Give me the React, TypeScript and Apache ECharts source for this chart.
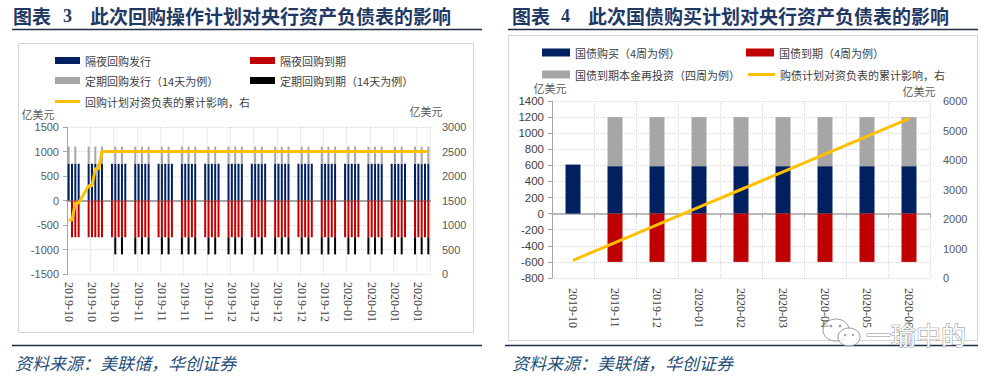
import React, { useEffect, useRef } from 'react';
import * as echarts from 'echarts';

const _ = null;

// ---------- Left chart (daily, 2019-10-15 .. 2020-01-31) ----------
const repoStart = '2019-10-15';
const repoEnd = '2020-01-31';

const overnightIssue = [
  750, 750, 750, 750, _, _,
  750, 750, 750, 750, 750, _, _,
  750, 750, 750, 750, 750, _, _,
  750, 750, 750, 750, 750, _, _,
  750, 750, 750, 750, 750, _, _,
  750, 750, 750, 750, 750, _, _,
  750, 750, 750, 750, 750, _, _,
  750, 750, 750, 750, 750, _, _,
  750, 750, 750, 750, 750, _, _,
  750, 750, 750, 750, 750, _, _,
  750, 750, 750, 750, 750, _, _,
  750, 750, 750, 750, 750, _, _,
  750, 750, 750, 750, 750, _, _,
  750, 750, 750, 750, 750, _, _,
  750, 750, 750, 750, 750, _, _,
  750, 750, 750, 750, 750,
];

const overnightMature = [
  _, -750, -750, -750, _, _,
  -750, -750, -750, -750, -750, _, _,
  -750, -750, -750, -750, -750, _, _,
  -750, -750, -750, -750, -750, _, _,
  -750, -750, -750, -750, -750, _, _,
  -750, -750, -750, -750, -750, _, _,
  -750, -750, -750, -750, -750, _, _,
  -750, -750, -750, -750, -750, _, _,
  -750, -750, -750, -750, -750, _, _,
  -750, -750, -750, -750, -750, _, _,
  -750, -750, -750, -750, -750, _, _,
  -750, -750, -750, -750, -750, _, _,
  -750, -750, -750, -750, -750, _, _,
  -750, -750, -750, -750, -750, _, _,
  -750, -750, -750, -750, -750, _, _,
  -750, -750, -750, -750, -750,
];

const termIssue = [
  350, _, 350, _, _, _,
  350, _, 350, _, 350, _, _,
  _, 350, _, 350, _, _, _,
  350, _, 350, _, 350, _, _,
  _, 350, _, 350, _, _, _,
  350, _, 350, _, 350, _, _,
  _, 350, _, 350, _, _, _,
  350, _, 350, _, 350, _, _,
  _, 350, _, 350, _, _, _,
  350, _, 350, _, 350, _, _,
  _, 350, _, 350, _, _, _,
  350, _, 350, _, 350, _, _,
  _, 350, _, 350, _, _, _,
  350, _, 350, _, 350, _, _,
  _, 350, _, 350, _, _, _,
  350, _, 350, _, 350,
];

const termMature = [
  _, _, _, _, _, _,
  _, _, _, _, _, _, _,
  _, -350, _, -350, _, _, _,
  -350, _, -350, _, -350, _, _,
  _, -350, _, -350, _, _, _,
  -350, _, -350, _, -350, _, _,
  _, -350, _, -350, _, _, _,
  -350, _, -350, _, -350, _, _,
  _, -350, _, -350, _, _, _,
  -350, _, -350, _, -350, _, _,
  _, -350, _, -350, _, _, _,
  -350, _, -350, _, -350, _, _,
  _, -350, _, -350, _, _, _,
  -350, _, -350, _, -350, _, _,
  _, -350, _, -350, _, _, _,
  -350, _, -350, _, -350,
];

const repoImpact = [
  1100, 1100, 1450, 1450, _, _,
  1800, 1800, 2150, 2150, 2500, _, _,
  2500, 2500, 2500, 2500, 2500, _, _,
  2500, 2500, 2500, 2500, 2500, _, _,
  2500, 2500, 2500, 2500, 2500, _, _,
  2500, 2500, 2500, 2500, 2500, _, _,
  2500, 2500, 2500, 2500, 2500, _, _,
  2500, 2500, 2500, 2500, 2500, _, _,
  2500, 2500, 2500, 2500, 2500, _, _,
  2500, 2500, 2500, 2500, 2500, _, _,
  2500, 2500, 2500, 2500, 2500, _, _,
  2500, 2500, 2500, 2500, 2500, _, _,
  2500, 2500, 2500, 2500, 2500, _, _,
  2500, 2500, 2500, 2500, 2500, _, _,
  2500, 2500, 2500, 2500, 2500, _, _,
  2500, 2500, 2500, 2500, 2500,
];

// ---------- Right chart (monthly) ----------
const months = ['2019-10', '2019-11', '2019-12', '2020-01', '2020-02', '2020-03', '2020-04', '2020-05', '2020-06'];
const billPurchase = [610, 590, 590, 590, 590, 590, 590, 590, 590];
const billReinvest = [_, 610, 610, 610, 610, 610, 610, 610, 610];
const billMature = [_, -600, -600, -600, -600, -600, -600, -600, -600];
const billImpact = [600, 1200, 1800, 2400, 3000, 3600, 4200, 4800, 5400];

// ---------- Text ----------
const leftTitleNo = '3';
const rightTitleNo = '4';
const leftTitle = '此次回购操作计划对央行资产负债表的影响';
const rightTitle = '此次国债购买计划对央行资产负债表的影响';
const sourceText = '资料来源：美联储，华创证券';
const unitText = '亿美元';
const watermark = '一瑜中的';

function buildDays(start: string, end: string): string[] {
  const out: string[] = [];
  const d = new Date(start + 'T00:00:00Z');
  const e = new Date(end + 'T00:00:00Z');
  while (d.getTime() <= e.getTime()) {
    out.push(d.toISOString().slice(0, 10));
    d.setUTCDate(d.getUTCDate() + 1);
  }
  return out;
}

const days = buildDays(repoStart, repoEnd);

const NAVY = '#002060';
const RED = '#C00000';
const GRAY = '#A6A6A6';
const BLACK = '#000000';
const GOLD = '#FFC000';
const TITLE = '#1F3864';
const CJK = '"Noto Sans CJK SC", sans-serif';
const SERIF = '"Liberation Serif", serif';
const SANS = '"Liberation Sans", sans-serif';
const plain = (v: number) => String(v);

const legendBase = {
  padding: 0,
  itemWidth: 25,
  itemHeight: 7,
  icon: 'rect',
  selectedMode: false,
  textStyle: { fontSize: 11, color: '#404040', fontFamily: CJK },
};

function txt(x: number, y: number, text: string, extra: any = {}) {
  return {
    type: 'text',
    x,
    y,
    z: 50,
    style: {
      text,
      fill: '#595959',
      fontSize: 11,
      fontFamily: CJK,
      align: 'left',
      verticalAlign: 'middle',
      ...extra,
    },
  };
}

function hline(x1: number, x2: number, y: number, color: string, w: number) {
  return {
    type: 'line',
    z: 50,
    shape: { x1, y1: y, x2, y2: y },
    style: { stroke: color, lineWidth: w },
  };
}

const option: any = {
  animation: false,
  backgroundColor: '#ffffff',
  grid: [
    { left: 67, top: 127, width: 363, height: 147 },
    { left: 552, top: 101, width: 378, height: 177 },
  ],
  legend: [
    { ...legendBase, data: ['隔夜回购发行'], left: 55, top: 55 },
    { ...legendBase, data: ['隔夜回购到期'], left: 250, top: 55 },
    { ...legendBase, data: ['定期回购发行（14天为例）'], left: 55, top: 75 },
    { ...legendBase, data: ['定期回购到期（14天为例）'], left: 250, top: 75 },
    { ...legendBase, data: ['回购计划对资负表的累计影响，右'], left: 55, top: 96, itemHeight: 3 },
    { ...legendBase, data: ['国债购买（4周为例）'], left: 542, top: 47, itemWidth: 28, itemHeight: 8 },
    { ...legendBase, data: ['国债到期（4周为例）'], left: 746, top: 47, itemWidth: 28, itemHeight: 8 },
    { ...legendBase, data: ['国债到期本金再投资（四周为例）'], left: 542, top: 69, itemWidth: 28, itemHeight: 8 },
    { ...legendBase, data: ['购债计划对资负表的累计影响，右'], left: 748, top: 69, itemWidth: 27, itemHeight: 3 },
  ],
  xAxis: [
    {
      gridIndex: 0,
      type: 'category',
      data: days,
      position: 'bottom',
      axisLine: { onZero: true, lineStyle: { color: GRAY, width: 2 } },
      axisTick: { show: false, interval: 6 },
      axisLabel: { show: false, interval: 6 },
      splitLine: { show: true, interval: 6, lineStyle: { type: 'dotted', color: '#D9D9D9' } },
    },
    {
      gridIndex: 0,
      type: 'category',
      data: days,
      position: 'bottom',
      axisLine: { show: false, onZero: false },
      axisTick: { show: false },
      splitLine: { show: false },
      axisLabel: {
        interval: 6,
        rotate: -90,
        margin: 8,
        fontSize: 12,
        fontFamily: SERIF,
        color: '#404040',
        formatter: (v: string) => v.slice(0, 7),
      },
    },
    {
      gridIndex: 1,
      type: 'category',
      data: months,
      position: 'bottom',
      axisLine: { onZero: true, lineStyle: { color: GRAY, width: 1.5 } },
      axisTick: { show: true, interval: 0, length: 4, lineStyle: { color: GRAY } },
      axisLabel: { show: false },
      splitLine: { show: true, interval: 0, lineStyle: { type: 'dotted', color: '#D9D9D9' } },
    },
    {
      gridIndex: 1,
      type: 'category',
      data: months,
      position: 'bottom',
      axisLine: { show: false, onZero: false },
      axisTick: { show: false },
      splitLine: { show: false },
      axisLabel: {
        interval: 0,
        rotate: -90,
        margin: 10,
        fontSize: 12,
        fontFamily: SERIF,
        color: '#404040',
      },
    },
  ],
  yAxis: [
    {
      gridIndex: 0,
      type: 'value',
      position: 'left',
      min: -1500,
      max: 1500,
      interval: 500,
      axisLine: { show: true, lineStyle: { color: GRAY } },
      axisTick: { show: true, length: 4, lineStyle: { color: GRAY } },
      axisLabel: { margin: 8, fontSize: 11, fontFamily: SANS, color: '#595959', formatter: plain },
      splitLine: { show: true, lineStyle: { type: 'dotted', color: '#D9D9D9' } },
    },
    {
      gridIndex: 0,
      type: 'value',
      position: 'right',
      min: 0,
      max: 3000,
      interval: 500,
      axisLine: { show: false },
      axisTick: { show: false },
      axisLabel: { margin: 12, fontSize: 11, fontFamily: SANS, color: '#595959', formatter: plain },
      splitLine: { show: false },
    },
    {
      gridIndex: 1,
      type: 'value',
      position: 'left',
      min: -800,
      max: 1400,
      interval: 200,
      axisLine: { show: true, lineStyle: { color: GRAY } },
      axisTick: { show: true, length: 4, lineStyle: { color: GRAY } },
      axisLabel: { margin: 8, fontSize: 11.5, fontFamily: SANS, color: '#404040', formatter: plain },
      splitLine: { show: true, lineStyle: { type: 'dotted', color: '#D9D9D9' } },
    },
    {
      gridIndex: 1,
      type: 'value',
      position: 'right',
      min: 0,
      max: 6000,
      interval: 1000,
      axisLine: { show: false },
      axisTick: { show: false },
      axisLabel: { margin: 13, fontSize: 11, fontFamily: SANS, color: '#595959', formatter: plain },
      splitLine: { show: false },
    },
  ],
  series: [
    { name: '隔夜回购发行', type: 'bar', xAxisIndex: 0, yAxisIndex: 0, stack: 'repo', barWidth: 2, data: overnightIssue, itemStyle: { color: NAVY } },
    { name: '定期回购发行（14天为例）', type: 'bar', xAxisIndex: 0, yAxisIndex: 0, stack: 'repo', barWidth: 2, data: termIssue, itemStyle: { color: GRAY } },
    { name: '隔夜回购到期', type: 'bar', xAxisIndex: 0, yAxisIndex: 0, stack: 'repo', barWidth: 2, data: overnightMature, itemStyle: { color: RED } },
    { name: '定期回购到期（14天为例）', type: 'bar', xAxisIndex: 0, yAxisIndex: 0, stack: 'repo', barWidth: 2, data: termMature, itemStyle: { color: BLACK } },
    {
      name: '回购计划对资负表的累计影响，右', type: 'line', xAxisIndex: 0, yAxisIndex: 1, data: repoImpact,
      connectNulls: true, symbol: 'none', lineStyle: { color: GOLD, width: 3 }, itemStyle: { color: GOLD }, z: 5,
    },
    { name: '国债购买（4周为例）', type: 'bar', xAxisIndex: 2, yAxisIndex: 2, stack: 'bill', barWidth: 15, data: billPurchase, itemStyle: { color: NAVY } },
    { name: '国债到期本金再投资（四周为例）', type: 'bar', xAxisIndex: 2, yAxisIndex: 2, stack: 'bill', barWidth: 15, data: billReinvest, itemStyle: { color: GRAY } },
    { name: '国债到期（4周为例）', type: 'bar', xAxisIndex: 2, yAxisIndex: 2, stack: 'bill', barWidth: 15, data: billMature, itemStyle: { color: RED } },
    {
      name: '购债计划对资负表的累计影响，右', type: 'line', xAxisIndex: 2, yAxisIndex: 3, data: billImpact,
      symbol: 'none', lineStyle: { color: GOLD, width: 3 }, itemStyle: { color: GOLD }, z: 5,
    },
  ],
  graphic: [
    { type: 'rect', z: -1, shape: { x: 18.5, y: 43.5, width: 455, height: 289 }, style: { fill: 'none', stroke: '#D6D6D6', lineWidth: 1 } },
    { type: 'rect', z: -1, shape: { x: 508.5, y: 35.5, width: 469, height: 305 }, style: { fill: 'none', stroke: '#D6D6D6', lineWidth: 1 } },
    txt(13, 15, '图表', { fill: TITLE, fontSize: 19, fontWeight: 'bold' }),
    txt(63, 16, leftTitleNo, { fill: TITLE, fontSize: 18, fontWeight: 'bold', fontFamily: SERIF }),
    txt(90, 15, leftTitle, { fill: TITLE, fontSize: 19, fontWeight: 'bold' }),
    txt(512, 15, '图表', { fill: TITLE, fontSize: 19, fontWeight: 'bold' }),
    txt(561, 16, rightTitleNo, { fill: TITLE, fontSize: 18, fontWeight: 'bold', fontFamily: SERIF }),
    txt(588, 15, rightTitle, { fill: TITLE, fontSize: 19, fontWeight: 'bold' }),
    hline(12, 482, 29.5, '#1F2F45', 1.5),
    hline(508, 978, 29.5, '#1F2F45', 1.5),
    hline(12, 482, 345.5, '#1F2F45', 1.5),
    hline(505, 978, 345.5, '#1F2F45', 1.5),
    txt(15, 362, sourceText, { fill: '#1F4E79', fontSize: 17, fontStyle: 'italic' }),
    txt(512, 362, sourceText, { fill: '#1F4E79', fontSize: 17, fontStyle: 'italic' }),
    txt(38, 114, unitText, { align: 'center' }),
    txt(426, 111, unitText, { align: 'center' }),
    txt(550, 88, unitText, { align: 'center' }),
    txt(919, 91, unitText, { align: 'center' }),
    { type: 'ellipse', z: 60, shape: { cx: 836, cy: 330, rx: 13, ry: 11 }, style: { fill: 'rgba(255,255,255,0.6)', stroke: '#9A9A9A', lineWidth: 1 } },
    { type: 'ellipse', z: 61, shape: { cx: 849, cy: 337, rx: 11, ry: 9 }, style: { fill: 'rgba(255,255,255,0.8)', stroke: '#9A9A9A', lineWidth: 1 } },
    { type: 'circle', z: 62, shape: { cx: 831, cy: 326, r: 1.3 }, style: { fill: '#9A9A9A' } },
    { type: 'circle', z: 62, shape: { cx: 840, cy: 326, r: 1.3 }, style: { fill: '#9A9A9A' } },
    { type: 'circle', z: 62, shape: { cx: 845, cy: 335, r: 1.1 }, style: { fill: '#9A9A9A' } },
    { type: 'circle', z: 62, shape: { cx: 853, cy: 335, r: 1.1 }, style: { fill: '#9A9A9A' } },
    txt(866, 334, watermark, { fill: '#FFFFFF', stroke: '#8C8C8C', lineWidth: 1, fontSize: 25 }),
  ],
};

export default function App() {
  const ref = useRef<HTMLDivElement>(null);
  useEffect(() => {
    document.body.style.margin = '0';
    const chart = echarts.init(ref.current as HTMLDivElement, null, { renderer: 'svg' });
    chart.setOption(option);
    return () => {
      chart.dispose();
    };
  }, []);
  return <div ref={ref} style={{ width: 996, height: 378 }} />;
}
